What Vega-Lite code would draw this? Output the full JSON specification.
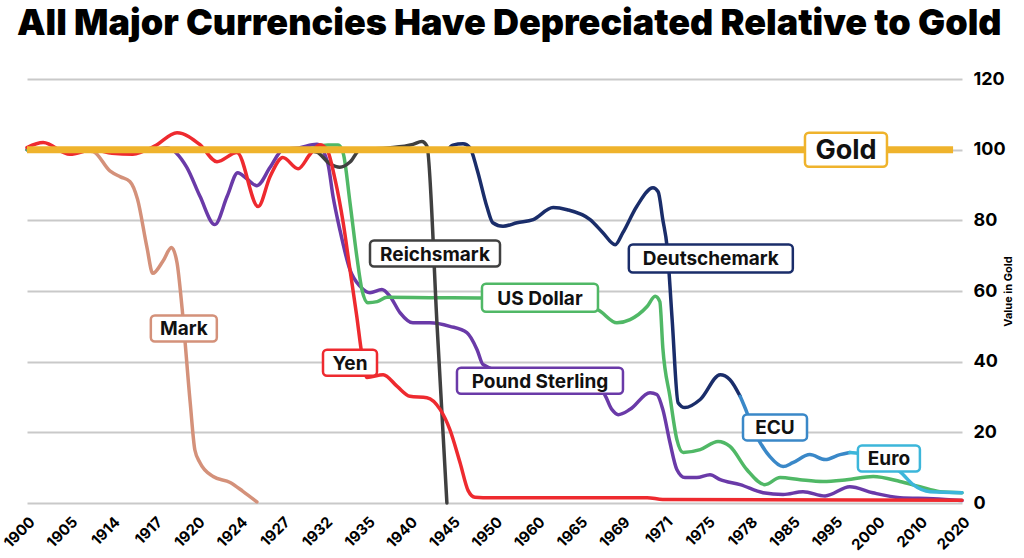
{
  "$schema": "https://vega.github.io/schema/vega-lite/v6.json",
  "autosize": {"type": "none"},
  "width": 935,
  "height": 424,
  "padding": {"left": 27, "top": 79, "right": 62, "bottom": 55},
  "background": "white",
  "config": {"view": {"stroke": null}, "font": "Inter"},
  "title": {
    "text": "All Major Currencies Have Depreciated Relative to Gold",
    "anchor": "start",
    "frame": "group",
    "fontSize": 36,
    "fontWeight": 900,
    "font": "Inter",
    "color": "#000000",
    "dx": -10,
    "offset": 27
  },
  "datasets": {
    "lines": [
      {"series": "Mark", "i": 0, "v": 100}, {"series": "Mark", "i": 1, "v": 100}, {"series": "Mark", "i": 1.55, "v": 99.5}, {"series": "Mark", "i": 1.95, "v": 94}, {"series": "Mark", "i": 2.2, "v": 92.3}, {"series": "Mark", "i": 2.42, "v": 91}, {"series": "Mark", "i": 2.6, "v": 86}, {"series": "Mark", "i": 2.82, "v": 72.5}, {"series": "Mark", "i": 2.96, "v": 65}, {"series": "Mark", "i": 3.2, "v": 68.5}, {"series": "Mark", "i": 3.4, "v": 72.3}, {"series": "Mark", "i": 3.53, "v": 68}, {"series": "Mark", "i": 3.65, "v": 55}, {"series": "Mark", "i": 3.84, "v": 28.4}, {"series": "Mark", "i": 3.95, "v": 15}, {"series": "Mark", "i": 4.07, "v": 11.4}, {"series": "Mark", "i": 4.38, "v": 7.5}, {"series": "Mark", "i": 4.78, "v": 5.8}, {"series": "Mark", "i": 5.08, "v": 3.3}, {"series": "Mark", "i": 5.41, "v": 0.3},

      {"series": "Pound Sterling", "i": 0, "v": 100}, {"series": "Pound Sterling", "i": 3, "v": 100}, {"series": "Pound Sterling", "i": 3.29, "v": 100.5}, {"series": "Pound Sterling", "i": 3.76, "v": 95}, {"series": "Pound Sterling", "i": 4.07, "v": 86.8}, {"series": "Pound Sterling", "i": 4.42, "v": 78.8}, {"series": "Pound Sterling", "i": 4.71, "v": 86.8}, {"series": "Pound Sterling", "i": 4.96, "v": 93.5}, {"series": "Pound Sterling", "i": 5.15, "v": 92}, {"series": "Pound Sterling", "i": 5.41, "v": 89.8}, {"series": "Pound Sterling", "i": 5.72, "v": 95}, {"series": "Pound Sterling", "i": 6.02, "v": 100}, {"series": "Pound Sterling", "i": 6.4, "v": 100.5}, {"series": "Pound Sterling", "i": 6.82, "v": 101.5}, {"series": "Pound Sterling", "i": 7.08, "v": 96}, {"series": "Pound Sterling", "i": 7.2, "v": 86.8}, {"series": "Pound Sterling", "i": 7.36, "v": 77.4}, {"series": "Pound Sterling", "i": 7.6, "v": 66}, {"series": "Pound Sterling", "i": 7.84, "v": 61.3}, {"series": "Pound Sterling", "i": 8.07, "v": 59.5}, {"series": "Pound Sterling", "i": 8.35, "v": 60.4}, {"series": "Pound Sterling", "i": 8.54, "v": 58.5}, {"series": "Pound Sterling", "i": 8.78, "v": 53.8}, {"series": "Pound Sterling", "i": 9.08, "v": 51}, {"series": "Pound Sterling", "i": 9.48, "v": 51}, {"series": "Pound Sterling", "i": 9.95, "v": 50}, {"series": "Pound Sterling", "i": 10.35, "v": 48.2}, {"series": "Pound Sterling", "i": 10.59, "v": 43.4}, {"series": "Pound Sterling", "i": 10.73, "v": 39.2}, {"series": "Pound Sterling", "i": 12.2, "v": 34}, {"series": "Pound Sterling", "i": 13.55, "v": 31.2}, {"series": "Pound Sterling", "i": 13.76, "v": 26.5}, {"series": "Pound Sterling", "i": 13.91, "v": 25}, {"series": "Pound Sterling", "i": 14.19, "v": 26.5}, {"series": "Pound Sterling", "i": 14.66, "v": 31.2}, {"series": "Pound Sterling", "i": 14.82, "v": 30.7}, {"series": "Pound Sterling", "i": 14.96, "v": 26.5}, {"series": "Pound Sterling", "i": 15.13, "v": 17}, {"series": "Pound Sterling", "i": 15.29, "v": 9.5}, {"series": "Pound Sterling", "i": 15.48, "v": 7.2}, {"series": "Pound Sterling", "i": 15.76, "v": 7.2}, {"series": "Pound Sterling", "i": 16.07, "v": 8}, {"series": "Pound Sterling", "i": 16.31, "v": 6.6}, {"series": "Pound Sterling", "i": 16.78, "v": 5.2}, {"series": "Pound Sterling", "i": 17.32, "v": 2.9}, {"series": "Pound Sterling", "i": 17.79, "v": 2.4}, {"series": "Pound Sterling", "i": 18.26, "v": 3.2}, {"series": "Pound Sterling", "i": 18.78, "v": 2}, {"series": "Pound Sterling", "i": 19.36, "v": 4.6}, {"series": "Pound Sterling", "i": 19.9, "v": 2.9}, {"series": "Pound Sterling", "i": 20.54, "v": 1.5}, {"series": "Pound Sterling", "i": 21.32, "v": 1.2}, {"series": "Pound Sterling", "i": 22, "v": 0.7},

      {"series": "US Dollar", "i": 0, "v": 100}, {"series": "US Dollar", "i": 6.5, "v": 100}, {"series": "US Dollar", "i": 7.08, "v": 101.3}, {"series": "US Dollar", "i": 7.32, "v": 101.3}, {"series": "US Dollar", "i": 7.44, "v": 99}, {"series": "US Dollar", "i": 7.6, "v": 85}, {"series": "US Dollar", "i": 7.76, "v": 69.8}, {"series": "US Dollar", "i": 7.88, "v": 60.4}, {"series": "US Dollar", "i": 8.02, "v": 56.7}, {"series": "US Dollar", "i": 8.24, "v": 57}, {"series": "US Dollar", "i": 8.47, "v": 58.2}, {"series": "US Dollar", "i": 9.48, "v": 58.1}, {"series": "US Dollar", "i": 10.66, "v": 58}, {"series": "US Dollar", "i": 12, "v": 57.5}, {"series": "US Dollar", "i": 13.41, "v": 54.8}, {"series": "US Dollar", "i": 13.88, "v": 51}, {"series": "US Dollar", "i": 14.19, "v": 51.9}, {"series": "US Dollar", "i": 14.59, "v": 55.6}, {"series": "US Dollar", "i": 14.78, "v": 58.5}, {"series": "US Dollar", "i": 14.89, "v": 57}, {"series": "US Dollar", "i": 14.96, "v": 44}, {"series": "US Dollar", "i": 15.13, "v": 30}, {"series": "US Dollar", "i": 15.29, "v": 18}, {"series": "US Dollar", "i": 15.44, "v": 14.3}, {"series": "US Dollar", "i": 15.84, "v": 15.1}, {"series": "US Dollar", "i": 16.26, "v": 17.4}, {"series": "US Dollar", "i": 16.54, "v": 16}, {"series": "US Dollar", "i": 16.94, "v": 9.4}, {"series": "US Dollar", "i": 17.36, "v": 5.2}, {"series": "US Dollar", "i": 17.72, "v": 7.2}, {"series": "US Dollar", "i": 18.19, "v": 6.6}, {"series": "US Dollar", "i": 18.73, "v": 6.1}, {"series": "US Dollar", "i": 19.29, "v": 6.6}, {"series": "US Dollar", "i": 19.91, "v": 7.5}, {"series": "US Dollar", "i": 20.54, "v": 6.1}, {"series": "US Dollar", "i": 21.01, "v": 4.6}, {"series": "US Dollar", "i": 21.48, "v": 3.2}, {"series": "US Dollar", "i": 22, "v": 2.9},

      {"series": "Reichsmark", "i": 6.5, "v": 100}, {"series": "Reichsmark", "i": 6.82, "v": 99.3}, {"series": "Reichsmark", "i": 7.13, "v": 96}, {"series": "Reichsmark", "i": 7.36, "v": 95}, {"series": "Reichsmark", "i": 7.6, "v": 96.5}, {"series": "Reichsmark", "i": 7.84, "v": 100}, {"series": "Reichsmark", "i": 8.5, "v": 100.5}, {"series": "Reichsmark", "i": 9.08, "v": 101.5}, {"series": "Reichsmark", "i": 9.29, "v": 102.3}, {"series": "Reichsmark", "i": 9.41, "v": 101}, {"series": "Reichsmark", "i": 9.65, "v": 50}, {"series": "Reichsmark", "i": 9.88, "v": 0},

      {"series": "Deutschemark", "i": 9.9, "v": 100}, {"series": "Deutschemark", "i": 10.02, "v": 101.3}, {"series": "Deutschemark", "i": 10.26, "v": 101.7}, {"series": "Deutschemark", "i": 10.42, "v": 100.6}, {"series": "Deutschemark", "i": 10.59, "v": 94.4}, {"series": "Deutschemark", "i": 10.82, "v": 83.9}, {"series": "Deutschemark", "i": 10.96, "v": 79.3}, {"series": "Deutschemark", "i": 11.2, "v": 78.3}, {"series": "Deutschemark", "i": 11.53, "v": 79.3}, {"series": "Deutschemark", "i": 11.91, "v": 80.2}, {"series": "Deutschemark", "i": 12.38, "v": 83.6}, {"series": "Deutschemark", "i": 12.71, "v": 83}, {"series": "Deutschemark", "i": 13.25, "v": 80.2}, {"series": "Deutschemark", "i": 13.55, "v": 76.5}, {"series": "Deutschemark", "i": 13.84, "v": 73.1}, {"series": "Deutschemark", "i": 14.02, "v": 76.5}, {"series": "Deutschemark", "i": 14.35, "v": 84}, {"series": "Deutschemark", "i": 14.73, "v": 89.2}, {"series": "Deutschemark", "i": 14.85, "v": 88.1}, {"series": "Deutschemark", "i": 14.96, "v": 80.2}, {"series": "Deutschemark", "i": 15.06, "v": 72.6}, {"series": "Deutschemark", "i": 15.18, "v": 51.9}, {"series": "Deutschemark", "i": 15.32, "v": 28.4}, {"series": "Deutschemark", "i": 15.48, "v": 27}, {"series": "Deutschemark", "i": 15.84, "v": 29.3}, {"series": "Deutschemark", "i": 16.31, "v": 36.3}, {"series": "Deutschemark", "i": 16.54, "v": 34.9}, {"series": "Deutschemark", "i": 16.78, "v": 30.2},

      {"series": "ECU", "i": 16.78, "v": 30.2}, {"series": "ECU", "i": 16.94, "v": 25.6}, {"series": "ECU", "i": 17.08, "v": 21}, {"series": "ECU", "i": 17.25, "v": 17.1}, {"series": "ECU", "i": 17.48, "v": 13.1}, {"series": "ECU", "i": 17.79, "v": 10.3}, {"series": "ECU", "i": 18.02, "v": 11.4}, {"series": "ECU", "i": 18.42, "v": 13.7}, {"series": "ECU", "i": 18.78, "v": 12.3}, {"series": "ECU", "i": 19.13, "v": 13.7}, {"series": "ECU", "i": 19.36, "v": 14.3},

      {"series": "Euro", "i": 19.36, "v": 14.3}, {"series": "Euro", "i": 19.6, "v": 14}, {"series": "Euro", "i": 20, "v": 12}, {"series": "Euro", "i": 20.54, "v": 8.9}, {"series": "Euro", "i": 20.85, "v": 5.2}, {"series": "Euro", "i": 21.25, "v": 3.2}, {"series": "Euro", "i": 22, "v": 2.9},

      {"series": "Yen", "i": 0, "v": 100.6}, {"series": "Yen", "i": 0.38, "v": 102}, {"series": "Yen", "i": 1.01, "v": 98.7}, {"series": "Yen", "i": 1.55, "v": 100}, {"series": "Yen", "i": 2, "v": 99}, {"series": "Yen", "i": 2.49, "v": 98.7}, {"series": "Yen", "i": 3, "v": 101}, {"series": "Yen", "i": 3.53, "v": 104.8}, {"series": "Yen", "i": 4.07, "v": 101.4}, {"series": "Yen", "i": 4.47, "v": 96.6}, {"series": "Yen", "i": 4.94, "v": 99.2}, {"series": "Yen", "i": 5.44, "v": 83.9}, {"series": "Yen", "i": 5.72, "v": 92.4}, {"series": "Yen", "i": 6.02, "v": 97.8}, {"series": "Yen", "i": 6.38, "v": 94.6}, {"series": "Yen", "i": 6.66, "v": 98.7}, {"series": "Yen", "i": 6.89, "v": 101.4}, {"series": "Yen", "i": 7.06, "v": 100}, {"series": "Yen", "i": 7.25, "v": 91.5}, {"series": "Yen", "i": 7.44, "v": 79.3}, {"series": "Yen", "i": 7.6, "v": 66}, {"series": "Yen", "i": 7.76, "v": 52.8}, {"series": "Yen", "i": 7.88, "v": 42}, {"series": "Yen", "i": 8, "v": 35.5}, {"series": "Yen", "i": 8.38, "v": 36.3}, {"series": "Yen", "i": 8.71, "v": 33}, {"series": "Yen", "i": 9.01, "v": 30.2}, {"series": "Yen", "i": 9.41, "v": 29.8}, {"series": "Yen", "i": 9.72, "v": 26.5}, {"series": "Yen", "i": 9.95, "v": 20.8}, {"series": "Yen", "i": 10.19, "v": 11.4}, {"series": "Yen", "i": 10.38, "v": 3.5}, {"series": "Yen", "i": 10.54, "v": 1.6}, {"series": "Yen", "i": 10.73, "v": 1.5}, {"series": "Yen", "i": 14.59, "v": 1.5}, {"series": "Yen", "i": 14.96, "v": 1}, {"series": "Yen", "i": 22, "v": 0.8}
    ],
    "gold": [
      {"series": "Gold", "i": 0, "v": 100},
      {"series": "Gold", "i": 21.79, "v": 100}
    ],
    "labels": [
      {"series": "Mark", "i": 3.69, "v": 49.4},
      {"series": "Yen", "i": 7.6, "v": 39.7},
      {"series": "Reichsmark", "i": 9.6, "v": 70.6},
      {"series": "US Dollar", "i": 12.07, "v": 58.1},
      {"series": "Pound Sterling", "i": 12.07, "v": 34.6},
      {"series": "Deutschemark", "i": 16.09, "v": 69.2},
      {"series": "ECU", "i": 17.6, "v": 21.4},
      {"series": "Euro", "i": 20.28, "v": 12.6},
      {"series": "Gold", "i": 19.27, "v": 100}
    ]
  },
  "encoding": {
    "x": {
      "field": "i",
      "type": "quantitative",
      "scale": {"domain": [0, 22], "nice": false, "zero": false},
      "axis": {
        "title": null,
        "values": [0, 1, 2, 3, 4, 5, 6, 7, 8, 9, 10, 11, 12, 13, 14, 15, 16, 17, 18, 19, 20, 21, 22],
        "labelExpr": "['1900','1905','1914','1917','1920','1924','1927','1932','1935','1940','1945','1950','1960','1965','1969','1971','1975','1978','1985','1995','2000','2010','2020'][datum.value]",
        "labelAngle": -45,
        "labelFontSize": 15,
        "labelFontWeight": "bold",
        "labelColor": "#000000",
        "labelFont": "Inter",
        "labelPadding": 11,
        "labelFlush": false,
        "labelOverlap": false,
        "ticks": false,
        "domain": false,
        "grid": false
      }
    },
    "y": {
      "field": "v",
      "type": "quantitative",
      "scale": {"domain": [0, 120], "nice": false},
      "axis": {
        "orient": "right",
        "title": "Value in Gold",
        "titleAngle": 270,
        "titleFontSize": 11,
        "titleFontWeight": "bold",
        "titleColor": "#000000",
        "titleFont": "Inter",
        "titlePadding": 8,
        "values": [0, 20, 40, 60, 80, 100, 120],
        "labelFontSize": 18,
        "labelFontWeight": "bold",
        "labelColor": "#000000",
        "labelFont": "Inter",
        "labelPadding": 11,
        "ticks": false,
        "domain": false,
        "grid": true,
        "gridColor": "#c9c9c9",
        "gridWidth": 2
      }
    }
  },
  "layer": [
    {
      "data": {"name": "lines"},
      "mark": {"type": "line", "interpolate": "monotone", "strokeWidth": 3.5, "strokeCap": "round", "strokeJoin": "round"},
      "encoding": {
        "color": {
          "field": "series",
          "type": "nominal",
          "legend": null,
          "scale": {
            "domain": ["Gold", "Mark", "Pound Sterling", "Yen", "Reichsmark", "US Dollar", "Deutschemark", "ECU", "Euro"],
            "range": ["#EFB32C", "#D4917A", "#6A3AA8", "#EE2A2F", "#404040", "#50B866", "#1A2D6A", "#3A88C8", "#3CB6DA"]
          }
        },
        "detail": {"field": "series"}
      }
    },
    {
      "data": {"name": "gold"},
      "mark": {"type": "line", "strokeWidth": 7, "color": "#EFB32C"},
      "encoding": {}
    },
    {"data": {"name": "labels"}, "transform": [{"filter": "datum.series === 'Mark'"}], "mark": {"type": "rect", "fill": "white", "strokeWidth": 2.5, "cornerRadius": 4, "xOffset": -33, "x2Offset": 33, "yOffset": -13, "y2Offset": 13}, "encoding": {"x2": {"field": "i"}, "y2": {"field": "v"}, "stroke": {"field": "series", "type": "nominal", "legend": null, "scale": {"domain": ["Gold", "Mark", "Pound Sterling", "Yen", "Reichsmark", "US Dollar", "Deutschemark", "ECU", "Euro"], "range": ["#EFB32C", "#D4917A", "#6A3AA8", "#EE2A2F", "#404040", "#50B866", "#1A2D6A", "#3A88C8", "#3CB6DA"]}}}},
    {"data": {"name": "labels"}, "transform": [{"filter": "datum.series === 'Yen'"}], "mark": {"type": "rect", "fill": "white", "strokeWidth": 2.5, "cornerRadius": 4, "xOffset": -27, "x2Offset": 27, "yOffset": -13, "y2Offset": 13}, "encoding": {"x2": {"field": "i"}, "y2": {"field": "v"}, "stroke": {"field": "series", "type": "nominal", "legend": null}}},
    {"data": {"name": "labels"}, "transform": [{"filter": "datum.series === 'Reichsmark'"}], "mark": {"type": "rect", "fill": "white", "strokeWidth": 2.5, "cornerRadius": 4, "xOffset": -65, "x2Offset": 65, "yOffset": -13, "y2Offset": 13}, "encoding": {"x2": {"field": "i"}, "y2": {"field": "v"}, "stroke": {"field": "series", "type": "nominal", "legend": null}}},
    {"data": {"name": "labels"}, "transform": [{"filter": "datum.series === 'US Dollar'"}], "mark": {"type": "rect", "fill": "white", "strokeWidth": 2.5, "cornerRadius": 4, "xOffset": -58, "x2Offset": 58, "yOffset": -14, "y2Offset": 14}, "encoding": {"x2": {"field": "i"}, "y2": {"field": "v"}, "stroke": {"field": "series", "type": "nominal", "legend": null}}},
    {"data": {"name": "labels"}, "transform": [{"filter": "datum.series === 'Pound Sterling'"}], "mark": {"type": "rect", "fill": "white", "strokeWidth": 2.5, "cornerRadius": 4, "xOffset": -83, "x2Offset": 83, "yOffset": -13, "y2Offset": 13}, "encoding": {"x2": {"field": "i"}, "y2": {"field": "v"}, "stroke": {"field": "series", "type": "nominal", "legend": null}}},
    {"data": {"name": "labels"}, "transform": [{"filter": "datum.series === 'Deutschemark'"}], "mark": {"type": "rect", "fill": "white", "strokeWidth": 2.5, "cornerRadius": 4, "xOffset": -82, "x2Offset": 82, "yOffset": -14, "y2Offset": 14}, "encoding": {"x2": {"field": "i"}, "y2": {"field": "v"}, "stroke": {"field": "series", "type": "nominal", "legend": null}}},
    {"data": {"name": "labels"}, "transform": [{"filter": "datum.series === 'ECU'"}], "mark": {"type": "rect", "fill": "white", "strokeWidth": 2.5, "cornerRadius": 4, "xOffset": -32, "x2Offset": 32, "yOffset": -13, "y2Offset": 13}, "encoding": {"x2": {"field": "i"}, "y2": {"field": "v"}, "stroke": {"field": "series", "type": "nominal", "legend": null}}},
    {"data": {"name": "labels"}, "transform": [{"filter": "datum.series === 'Euro'"}], "mark": {"type": "rect", "fill": "white", "strokeWidth": 2.5, "cornerRadius": 4, "xOffset": -31, "x2Offset": 31, "yOffset": -13, "y2Offset": 13}, "encoding": {"x2": {"field": "i"}, "y2": {"field": "v"}, "stroke": {"field": "series", "type": "nominal", "legend": null}}},
    {"data": {"name": "labels"}, "transform": [{"filter": "datum.series === 'Gold'"}], "mark": {"type": "rect", "fill": "white", "strokeWidth": 2.5, "cornerRadius": 4, "xOffset": -41, "x2Offset": 41, "yOffset": -17, "y2Offset": 17}, "encoding": {"x2": {"field": "i"}, "y2": {"field": "v"}, "stroke": {"field": "series", "type": "nominal", "legend": null}}},
    {
      "data": {"name": "labels"},
      "mark": {"type": "text", "font": "Inter", "fontWeight": "bold", "color": "#111111", "align": "center", "baseline": "middle", "dy": 1},
      "encoding": {
        "text": {"field": "series"},
        "size": {"condition": {"test": "datum.series === 'Gold'", "value": 27}, "value": 19}
      }
    }
  ]
}
